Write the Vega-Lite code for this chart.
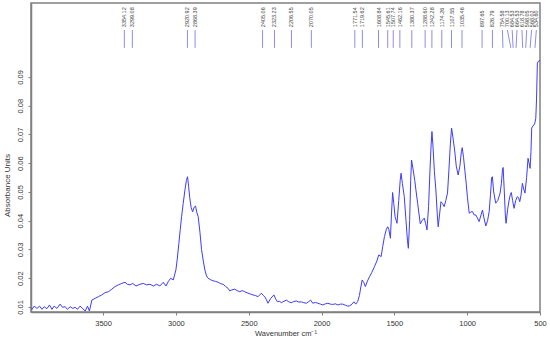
{
  "$schema": "https://vega.github.io/schema/vega-lite/v6.json",
  "width": 509,
  "height": 309,
  "autosize": "none",
  "padding": {"left": 31, "top": 3, "right": 10, "bottom": 30},
  "background": "white",
  "config": {
    "view": {"stroke": "#808080", "strokeWidth": 1.5},
    "font": "Liberation Sans",
    "axis": {"labelOverlap": false, "labelBound": false}
  },
  "datasets": {
    "spectrum": [
      {"wn": 3993, "abs": 0.0095},
      {"wn": 3988, "abs": 0.0092}, {"wn": 3973, "abs": 0.0103}, {"wn": 3954, "abs": 0.0095}, {"wn": 3936, "abs": 0.0103},
      {"wn": 3920, "abs": 0.0092}, {"wn": 3904, "abs": 0.0101}, {"wn": 3886, "abs": 0.0094}, {"wn": 3868, "abs": 0.0107},
      {"wn": 3851, "abs": 0.0092}, {"wn": 3836, "abs": 0.0103}, {"wn": 3817, "abs": 0.0095}, {"wn": 3795, "abs": 0.0110},
      {"wn": 3779, "abs": 0.0099}, {"wn": 3760, "abs": 0.0101}, {"wn": 3745, "abs": 0.0092}, {"wn": 3726, "abs": 0.0101},
      {"wn": 3708, "abs": 0.0095}, {"wn": 3692, "abs": 0.0099}, {"wn": 3676, "abs": 0.0092}, {"wn": 3658, "abs": 0.0103},
      {"wn": 3639, "abs": 0.0094}, {"wn": 3623, "abs": 0.0086}, {"wn": 3607, "abs": 0.0103}, {"wn": 3594, "abs": 0.0086},
      {"wn": 3577, "abs": 0.0124}, {"wn": 3555, "abs": 0.0130}, {"wn": 3532, "abs": 0.0136}, {"wn": 3509, "abs": 0.0142},
      {"wn": 3486, "abs": 0.0150}, {"wn": 3464, "abs": 0.0153}, {"wn": 3440, "abs": 0.0162}, {"wn": 3418, "abs": 0.0171},
      {"wn": 3395, "abs": 0.0177}, {"wn": 3372, "abs": 0.0182}, {"wn": 3349, "abs": 0.0186}, {"wn": 3334, "abs": 0.0179},
      {"wn": 3315, "abs": 0.0177}, {"wn": 3297, "abs": 0.0182}, {"wn": 3274, "abs": 0.0173}, {"wn": 3247, "abs": 0.0179},
      {"wn": 3224, "abs": 0.0182}, {"wn": 3201, "abs": 0.0177}, {"wn": 3178, "abs": 0.0179}, {"wn": 3155, "abs": 0.0173},
      {"wn": 3132, "abs": 0.0179}, {"wn": 3110, "abs": 0.0173}, {"wn": 3087, "abs": 0.0186}, {"wn": 3068, "abs": 0.0173},
      {"wn": 3053, "abs": 0.0188}, {"wn": 3036, "abs": 0.0200}, {"wn": 3018, "abs": 0.0194}, {"wn": 3000, "abs": 0.0229},
      {"wn": 2990, "abs": 0.0270}, {"wn": 2980, "abs": 0.0320}, {"wn": 2970, "abs": 0.0370}, {"wn": 2961, "abs": 0.0414},
      {"wn": 2950, "abs": 0.0460}, {"wn": 2938, "abs": 0.0507}, {"wn": 2928, "abs": 0.0540}, {"wn": 2920, "abs": 0.0553},
      {"wn": 2913, "abs": 0.0520}, {"wn": 2905, "abs": 0.0480}, {"wn": 2895, "abs": 0.0445}, {"wn": 2885, "abs": 0.0431},
      {"wn": 2875, "abs": 0.0447}, {"wn": 2865, "abs": 0.0451}, {"wn": 2857, "abs": 0.0430}, {"wn": 2847, "abs": 0.0414},
      {"wn": 2835, "abs": 0.0360}, {"wn": 2824, "abs": 0.0300}, {"wn": 2812, "abs": 0.0260}, {"wn": 2801, "abs": 0.0229},
      {"wn": 2790, "abs": 0.0208}, {"wn": 2779, "abs": 0.0200}, {"wn": 2762, "abs": 0.0195}, {"wn": 2745, "abs": 0.0191},
      {"wn": 2728, "abs": 0.0189}, {"wn": 2710, "abs": 0.0186}, {"wn": 2693, "abs": 0.0181}, {"wn": 2676, "abs": 0.0179},
      {"wn": 2660, "abs": 0.0172}, {"wn": 2642, "abs": 0.0165}, {"wn": 2630, "abs": 0.0156}, {"wn": 2619, "abs": 0.0159},
      {"wn": 2596, "abs": 0.0162}, {"wn": 2580, "abs": 0.0157}, {"wn": 2562, "abs": 0.0153}, {"wn": 2545, "abs": 0.0157},
      {"wn": 2527, "abs": 0.0153}, {"wn": 2505, "abs": 0.0148}, {"wn": 2488, "abs": 0.0145}, {"wn": 2471, "abs": 0.0142},
      {"wn": 2455, "abs": 0.0140}, {"wn": 2436, "abs": 0.0136}, {"wn": 2413, "abs": 0.0148}, {"wn": 2400, "abs": 0.0140},
      {"wn": 2390, "abs": 0.0136}, {"wn": 2378, "abs": 0.0125}, {"wn": 2368, "abs": 0.0113}, {"wn": 2349, "abs": 0.0130},
      {"wn": 2327, "abs": 0.0142}, {"wn": 2315, "abs": 0.0128}, {"wn": 2303, "abs": 0.0118}, {"wn": 2290, "abs": 0.0120},
      {"wn": 2276, "abs": 0.0115}, {"wn": 2258, "abs": 0.0120}, {"wn": 2242, "abs": 0.0124}, {"wn": 2225, "abs": 0.0118},
      {"wn": 2208, "abs": 0.0115}, {"wn": 2190, "abs": 0.0119}, {"wn": 2173, "abs": 0.0121}, {"wn": 2156, "abs": 0.0117},
      {"wn": 2139, "abs": 0.0118}, {"wn": 2122, "abs": 0.0115}, {"wn": 2105, "abs": 0.0113}, {"wn": 2090, "abs": 0.0118},
      {"wn": 2075, "abs": 0.0124}, {"wn": 2060, "abs": 0.0113}, {"wn": 2042, "abs": 0.0116}, {"wn": 2025, "abs": 0.0113},
      {"wn": 2008, "abs": 0.0110}, {"wn": 1991, "abs": 0.0107}, {"wn": 1974, "abs": 0.0111}, {"wn": 1957, "abs": 0.0113},
      {"wn": 1940, "abs": 0.0110}, {"wn": 1923, "abs": 0.0109}, {"wn": 1905, "abs": 0.0111}, {"wn": 1888, "abs": 0.0107},
      {"wn": 1870, "abs": 0.0110}, {"wn": 1854, "abs": 0.0110}, {"wn": 1836, "abs": 0.0106}, {"wn": 1820, "abs": 0.0103},
      {"wn": 1808, "abs": 0.0104}, {"wn": 1797, "abs": 0.0107}, {"wn": 1778, "abs": 0.0118}, {"wn": 1765, "abs": 0.0110},
      {"wn": 1751, "abs": 0.0120}, {"wn": 1740, "abs": 0.0140}, {"wn": 1730, "abs": 0.0170}, {"wn": 1721, "abs": 0.0194},
      {"wn": 1710, "abs": 0.0185}, {"wn": 1699, "abs": 0.0171}, {"wn": 1685, "abs": 0.0190}, {"wn": 1671, "abs": 0.0205},
      {"wn": 1655, "abs": 0.0220}, {"wn": 1637, "abs": 0.0240}, {"wn": 1620, "abs": 0.0260}, {"wn": 1607, "abs": 0.0281},
      {"wn": 1598, "abs": 0.0278}, {"wn": 1591, "abs": 0.0275}, {"wn": 1580, "abs": 0.0310}, {"wn": 1568, "abs": 0.0345},
      {"wn": 1555, "abs": 0.0370}, {"wn": 1546, "abs": 0.0379}, {"wn": 1538, "abs": 0.0370}, {"wn": 1527, "abs": 0.0339},
      {"wn": 1520, "abs": 0.0420}, {"wn": 1512, "abs": 0.0498}, {"wn": 1504, "abs": 0.0460}, {"wn": 1495, "abs": 0.0414},
      {"wn": 1482, "abs": 0.0391}, {"wn": 1470, "abs": 0.0470}, {"wn": 1460, "abs": 0.0540}, {"wn": 1454, "abs": 0.0565},
      {"wn": 1445, "abs": 0.0530}, {"wn": 1432, "abs": 0.0484}, {"wn": 1420, "abs": 0.0400}, {"wn": 1410, "abs": 0.0330},
      {"wn": 1404, "abs": 0.0304}, {"wn": 1395, "abs": 0.0400}, {"wn": 1388, "abs": 0.0540}, {"wn": 1382, "abs": 0.0611},
      {"wn": 1372, "abs": 0.0580}, {"wn": 1360, "abs": 0.0540}, {"wn": 1352, "abs": 0.0507}, {"wn": 1340, "abs": 0.0460},
      {"wn": 1322, "abs": 0.0389}, {"wn": 1310, "abs": 0.0400}, {"wn": 1295, "abs": 0.0409}, {"wn": 1285, "abs": 0.0390},
      {"wn": 1276, "abs": 0.0368}, {"wn": 1265, "abs": 0.0450}, {"wn": 1255, "abs": 0.0580}, {"wn": 1248, "abs": 0.0660},
      {"wn": 1242, "abs": 0.0710}, {"wn": 1235, "abs": 0.0660}, {"wn": 1225, "abs": 0.0570}, {"wn": 1215, "abs": 0.0507},
      {"wn": 1205, "abs": 0.0420}, {"wn": 1199, "abs": 0.0379}, {"wn": 1190, "abs": 0.0420}, {"wn": 1180, "abs": 0.0466},
      {"wn": 1170, "abs": 0.0460}, {"wn": 1158, "abs": 0.0449}, {"wn": 1147, "abs": 0.0470}, {"wn": 1135, "abs": 0.0496},
      {"wn": 1125, "abs": 0.0580}, {"wn": 1115, "abs": 0.0670}, {"wn": 1107, "abs": 0.0722}, {"wn": 1098, "abs": 0.0690},
      {"wn": 1090, "abs": 0.0660}, {"wn": 1084, "abs": 0.0635}, {"wn": 1075, "abs": 0.0590}, {"wn": 1062, "abs": 0.0559},
      {"wn": 1050, "abs": 0.0590}, {"wn": 1040, "abs": 0.0640}, {"wn": 1034, "abs": 0.0654}, {"wn": 1025, "abs": 0.0620},
      {"wn": 1015, "abs": 0.0570}, {"wn": 1009, "abs": 0.0542}, {"wn": 998, "abs": 0.0480}, {"wn": 986, "abs": 0.0426},
      {"wn": 975, "abs": 0.0430}, {"wn": 964, "abs": 0.0432}, {"wn": 952, "abs": 0.0420}, {"wn": 941, "abs": 0.0420},
      {"wn": 930, "abs": 0.0410}, {"wn": 918, "abs": 0.0397}, {"wn": 905, "abs": 0.0420}, {"wn": 895, "abs": 0.0437},
      {"wn": 885, "abs": 0.0410}, {"wn": 872, "abs": 0.0382}, {"wn": 860, "abs": 0.0400}, {"wn": 849, "abs": 0.0432},
      {"wn": 840, "abs": 0.0490}, {"wn": 832, "abs": 0.0550}, {"wn": 827, "abs": 0.0553}, {"wn": 818, "abs": 0.0500},
      {"wn": 804, "abs": 0.0461}, {"wn": 790, "abs": 0.0470}, {"wn": 774, "abs": 0.0496}, {"wn": 765, "abs": 0.0530},
      {"wn": 757, "abs": 0.0580}, {"wn": 753, "abs": 0.0585}, {"wn": 745, "abs": 0.0500}, {"wn": 738, "abs": 0.0420},
      {"wn": 733, "abs": 0.0391}, {"wn": 722, "abs": 0.0440}, {"wn": 712, "abs": 0.0472}, {"wn": 704, "abs": 0.0490},
      {"wn": 697, "abs": 0.0498}, {"wn": 688, "abs": 0.0470}, {"wn": 678, "abs": 0.0443}, {"wn": 667, "abs": 0.0470},
      {"wn": 655, "abs": 0.0484}, {"wn": 647, "abs": 0.0480}, {"wn": 639, "abs": 0.0466}, {"wn": 630, "abs": 0.0490},
      {"wn": 621, "abs": 0.0530}, {"wn": 612, "abs": 0.0510}, {"wn": 603, "abs": 0.0496}, {"wn": 592, "abs": 0.0550},
      {"wn": 582, "abs": 0.0617}, {"wn": 575, "abs": 0.0600}, {"wn": 568, "abs": 0.0582}, {"wn": 562, "abs": 0.0640},
      {"wn": 557, "abs": 0.0722}, {"wn": 548, "abs": 0.0730}, {"wn": 541, "abs": 0.0733}, {"wn": 535, "abs": 0.0740},
      {"wn": 529, "abs": 0.0756}, {"wn": 524, "abs": 0.0820}, {"wn": 518, "abs": 0.0948}, {"wn": 510, "abs": 0.0955},
      {"wn": 500, "abs": 0.0957}
    ],
    "peaks": [
      {"wn": 3354.12, "lx": 3354.12}, {"wn": 3299.08, "lx": 3299.08}, {"wn": 2920.92, "lx": 2920.92}, {"wn": 2868.39, "lx": 2868.39},
      {"wn": 2405.06, "lx": 2405.06}, {"wn": 2323.23, "lx": 2323.23}, {"wn": 2206.55, "lx": 2206.55}, {"wn": 2070.05, "lx": 2070.05},
      {"wn": 1771.54, "lx": 1771.54}, {"wn": 1719.62, "lx": 1719.62}, {"wn": 1608.84, "lx": 1608.84}, {"wn": 1545.61, "lx": 1545.61},
      {"wn": 1507.74, "lx": 1507.74}, {"wn": 1462.16, "lx": 1462.16}, {"wn": 1380.37, "lx": 1380.37}, {"wn": 1288.60, "lx": 1288.60},
      {"wn": 1242.28, "lx": 1242.28}, {"wn": 1174.26, "lx": 1174.26}, {"wn": 1107.55, "lx": 1107.55}, {"wn": 1035.46, "lx": 1035.46},
      {"wn": 897.65, "lx": 897.65}, {"wn": 826.79, "lx": 826.79},
      {"wn": 754.58, "lx": 758}, {"wn": 700.13, "lx": 724}, {"wn": 684.53, "lx": 691}, {"wn": 664.53, "lx": 658},
      {"wn": 618.78, "lx": 624}, {"wn": 598.05, "lx": 591}, {"wn": 568.02, "lx": 558}, {"wn": 534.60, "lx": 525}
    ]
  },
  "layer": [
    {
      "data": {"name": "spectrum"},
      "mark": {"type": "line", "color": "#3c3cff", "strokeWidth": 1, "clip": true},
      "encoding": {
        "x": {
          "field": "wn", "type": "quantitative",
          "scale": {"domain": [500, 3995], "reverse": true, "nice": false, "zero": false},
          "axis": {
            "title": "Wavenumber  cm⁻¹",
            "values": [3500, 3000, 2500, 2000, 1500, 1000, 500], "tickCount": 20,
            "format": "d", "grid": false, "labelFlush": false,
            "domainColor": "#808080", "domainWidth": 1.5, "tickColor": "#808080", "tickSize": 3,
            "labelFontSize": 7.5, "labelColor": "#333333", "labelPadding": 4,
            "titleFontSize": 7.5, "titleFontWeight": "normal", "titleColor": "#333333", "titlePadding": 3
          }
        },
        "y": {
          "field": "abs", "type": "quantitative",
          "scale": {"domain": [0.00826, 0.1157], "nice": false, "zero": false},
          "axis": {
            "title": "Absorbance Units",
            "values": [0.01, 0.02, 0.03, 0.04, 0.05, 0.06, 0.07, 0.08, 0.09], "tickCount": 20,
            "format": ".2f", "grid": false,
            "domainColor": "#808080", "domainWidth": 1.5, "tickColor": "#808080", "tickSize": 3,
            "labelAngle": 270, "labelAlign": "center", "labelBaseline": "bottom",
            "labelFontSize": 7.5, "labelColor": "#333333", "labelPadding": 4,
            "titleFontSize": 8, "titleFontWeight": "normal", "titleColor": "#333333",
            "titleX": -20, "titleY": 182, "titleAlign": "center", "titleBaseline": "bottom"
          }
        }
      }
    },
    {
      "data": {"name": "peaks"},
      "mark": {"type": "rule", "color": "#8c8cf0", "strokeWidth": 1},
      "encoding": {
        "x": {"field": "lx", "type": "quantitative"},
        "x2": {"field": "wn"},
        "y": {"datum": 0.1063},
        "y2": {"datum": 0.1001}
      }
    },
    {
      "data": {"name": "peaks"},
      "mark": {"type": "text", "angle": 270, "align": "left", "baseline": "middle", "fontSize": 5.5, "color": "#444444"},
      "encoding": {
        "x": {"field": "lx", "type": "quantitative"},
        "y": {"datum": 0.1073},
        "text": {"field": "wn", "type": "quantitative", "format": ".2f"}
      }
    }
  ]
}
